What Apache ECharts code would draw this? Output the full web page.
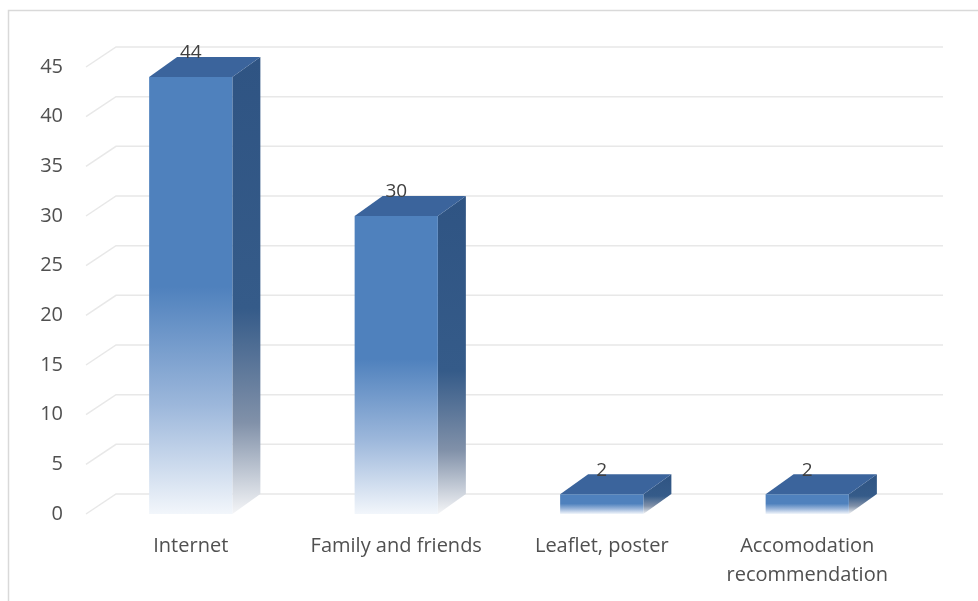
<!DOCTYPE html>
<html>
<head>
<meta charset="utf-8">
<script src="https://cdn.jsdelivr.net/npm/echarts@6/dist/echarts.min.js"></script>
<style>
html,body{margin:0;padding:0;background:#fff;}
#chart{width:978px;height:601px;}
</style>
</head>
<body>
<div id="chart"></div>
<script>
var categories = ['Internet', 'Family and friends', 'Leaflet, poster', 'Accomodation\nrecommendation'];
var values = [44, 30, 2, 2];
var yTicks = [0, 5, 10, 15, 20, 25, 30, 35, 40, 45];

var DX = 28, DY = -20;
var FONT = '"Open Sans", Lato, sans-serif';

var chart = echarts.init(document.getElementById('chart'));

function gridRender(params, api) {
  var cs = params.coordSys;
  var y = api.coord([0, api.value(0)])[1];
  return {
    type: 'polyline',
    shape: { points: [[cs.x - 2, y], [cs.x + DX, y + DY], [cs.x + cs.width + 33, y + DY]] },
    style: { stroke: '#e8e8e8', lineWidth: 1.5, fill: null },
    silent: true
  };
}

function barRender(params, api) {
  var i = api.value(0), v = api.value(1);
  var top = api.coord([i, v]);
  var base = api.coord([i, 0]);
  var w = api.size([1, 0])[0] * 0.405;
  var x0 = top[0] - w / 2, x1 = top[0] + w / 2;
  var yt = top[1], yb = base[1];
  var frontGrad = new echarts.graphic.LinearGradient(0, 0, 0, 1, [
    { offset: 0, color: '#4f81bd' },
    { offset: 0.48, color: '#4f81bd' },
    { offset: 0.75, color: '#9cb7db' },
    { offset: 1, color: '#f2f6fb' }
  ]);
  var sideGrad = new echarts.graphic.LinearGradient(0, 0, 0, 1, [
    { offset: 0, color: '#2f5483' },
    { offset: 0.55, color: '#355b89' },
    { offset: 0.8, color: '#8191a9' },
    { offset: 1, color: '#f4f5f7' }
  ]);
  return {
    type: 'group',
    children: [
      { type: 'polygon', shape: { points: [[x1, yt], [x1 + DX, yt + DY], [x1 + DX, yb + DY], [x1, yb]] }, style: { fill: sideGrad } },
      { type: 'rect', shape: { x: x0, y: yt, width: w, height: yb - yt }, style: { fill: frontGrad } },
      { type: 'polygon', shape: { points: [[x0, yt], [x0 + DX, yt + DY], [x1 + DX, yt + DY], [x1, yt]] }, style: { fill: '#3b649c' } },
      { type: 'text', style: { text: String(v), x: top[0], y: yt + DY - 4, align: 'center', verticalAlign: 'middle', fill: '#404040', font: '19px ' + FONT } }
    ]
  };
}

chart.setOption({
  animation: false,
  backgroundColor: '#ffffff',
  graphic: [{
    type: 'rect', shape: { x: 8.5, y: 10.5, width: 990, height: 600 },
    style: { fill: null, stroke: '#d9d9d9', lineWidth: 1.5 }, silent: true
  }],
  grid: { left: 88, right: 68, top: 67, bottom: 87 },
  xAxis: {
    type: 'category', data: categories, boundaryGap: true,
    axisLine: { show: false }, axisTick: { show: false }, splitLine: { show: false },
    axisLabel: { interval: 0, hideOverlap: false, margin: 18, color: '#505050', fontSize: 20, fontFamily: FONT, lineHeight: 29 }
  },
  yAxis: {
    type: 'value', min: 0, max: 45, interval: 5,
    axisLine: { show: false }, axisTick: { show: false }, splitLine: { show: false },
    axisLabel: { margin: 25, color: '#505050', fontSize: 20, fontFamily: FONT }
  },
  series: [
    { type: 'custom', renderItem: gridRender, data: yTicks.map(function (t) { return [t]; }), encode: { y: 0 }, z: 1, silent: true },
    { type: 'custom', renderItem: barRender, data: values.map(function (v, i) { return [i, v]; }), encode: { x: 0, y: 1 }, z: 2 }
  ]
});
</script>
</body>
</html>
